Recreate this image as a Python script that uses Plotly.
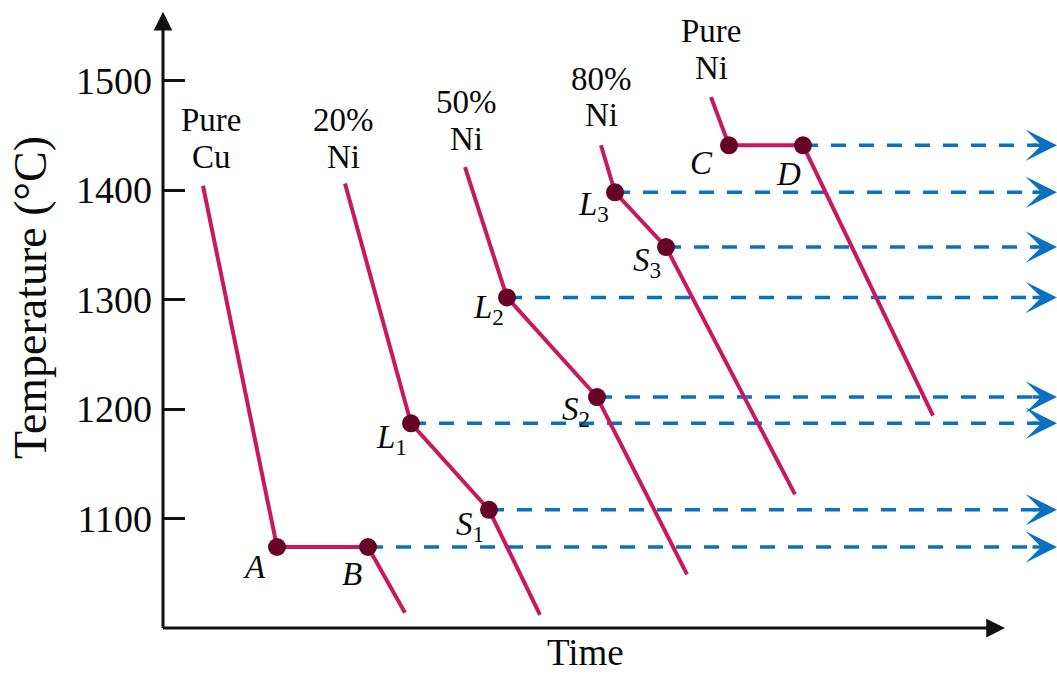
import plotly.graph_objects as go

# ---------------- data ----------------
curve_labels = [["Pure", "Cu"], ["20%", "Ni"], ["50%", "Ni"], ["80%", "Ni"], ["Pure", "Ni"]]

cu_time = [4.0, 11.4, 20.5, 24.2]
cu_temp = [1404, 1074, 1074, 1014]

ni20_time = [18.2, 24.8, 32.6, 37.7]
ni20_temp = [1406, 1187, 1108, 1012]

ni50_time = [30.2, 34.4, 43.4, 52.4]
ni50_temp = [1421, 1302, 1211, 1049]

ni80_time = [43.8, 45.2, 50.3, 63.2]
ni80_temp = [1441, 1398, 1348, 1122]

ni_time = [54.8, 56.6, 64.0, 77.0]
ni_temp = [1485, 1441, 1441, 1194]

point_labels = [
    ["<i>A</i>", "<i>B</i>"],
    ["<i>L</i><sub>1</sub>", "<i>S</i><sub>1</sub>"],
    ["<i>L</i><sub>2</sub>", "<i>S</i><sub>2</sub>"],
    ["<i>L</i><sub>3</sub>", "<i>S</i><sub>3</sub>"],
    ["<i>C</i>", "<i>D</i>"],
]

y_ticks = [1100, 1200, 1300, 1400, 1500]
y_title = "Temperature (°C)"
x_title = "Time"

arrow_tip_time = 89.4

# ---------------- styling ----------------
W, H = 1057, 674
ML, MR, MT, MB = 163, 0, 8, 46
X_RANGE = [0, 89.4]
Y_RANGE = [1000, 1566.4]
FONT = "Liberation Serif"
CURVE_COLOR = "#c8195f"
DOT_COLOR = "#650424"
BLUE = "#0a70c2"
TEXT = "#0a0a0a"

# label offsets in pixels (dx right, dy down) relative to their point
label_offsets = [
    [(-23, 20), (-16, 27)],
    [(-20, 16), (-19, 17)],
    [(-19, 12), (-21, 14)],
    [(-22, 14), (-19, 15)],
    [(-28, 18), (-15, 29)],
]
# curve title centres in pixels (x, y line1, y line2)
curve_label_pos = [(211, 120, 157), (343, 120, 157), (466, 102, 139), (601, 79, 115), (711, 31, 68)]

plot_w = W - ML - MR
plot_h = H - MT - MB


def px_to_paper(px, py):
    return (px - ML) / plot_w, (H - MB - py) / plot_h


curves_t = [cu_time, ni20_time, ni50_time, ni80_time, ni_time]
curves_T = [cu_temp, ni20_temp, ni50_temp, ni80_temp, ni_temp]

fig = go.Figure()
annotations = []

# dashed horizontal guide lines from the marked points
for t, T in zip(curves_t, curves_T):
    for i in (1, 2):
        if i == 1 and (t is cu_time or t is ni_time):
            continue
        fig.add_trace(go.Scatter(
            x=[t[i], arrow_tip_time - 2.0], y=[T[i], T[i]], mode="lines",
            line=dict(color=BLUE, width=3.5, dash="15px,13px"),
            hoverinfo="skip", showlegend=False))
        annotations.append(dict(
            x=arrow_tip_time, y=T[i], ax=arrow_tip_time - 2.6, ay=T[i],
            xref="x", yref="y", axref="x", ayref="y", text="", showarrow=True,
            arrowhead=3, arrowwidth=3.5, arrowsize=1.5, arrowcolor=BLUE, standoff=0))

# cooling curves
for t, T in zip(curves_t, curves_T):
    fig.add_trace(go.Scatter(
        x=t, y=T, mode="lines", line=dict(color=CURVE_COLOR, width=4),
        hoverinfo="skip", showlegend=False))

# marked points
for t, T in zip(curves_t, curves_T):
    fig.add_trace(go.Scatter(
        x=[t[1], t[2]], y=[T[1], T[2]], mode="markers",
        marker=dict(color=DOT_COLOR, size=18, line=dict(width=0)),
        hoverinfo="skip", showlegend=False))

# point labels
for t, T, labs, offs in zip(curves_t, curves_T, point_labels, label_offsets):
    for k, i in enumerate((1, 2)):
        dx, dy = offs[k]
        annotations.append(dict(
            x=t[i], y=T[i], xref="x", yref="y", text=labs[k], showarrow=False,
            xshift=dx, yshift=-dy, xanchor="center", yanchor="middle",
            font=dict(family=FONT, size=33, color=TEXT)))

# curve titles
for lines, (cx, y1, y2) in zip(curve_labels, curve_label_pos):
    for txt, yy in zip(lines, (y1, y2)):
        px, py = px_to_paper(cx, yy)
        annotations.append(dict(
            x=px, y=py, xref="paper", yref="paper", text=txt, showarrow=False,
            xanchor="center", yanchor="middle",
            font=dict(family=FONT, size=33, color=TEXT)))

# axes drawn as arrows
annotations.append(dict(
    x=84.2, y=1000, ax=-0.15, ay=1000, xref="x", yref="y", axref="x", ayref="y",
    text="", showarrow=True, arrowhead=2, arrowwidth=3, arrowsize=1.25,
    arrowcolor="#111111", standoff=0))
annotations.append(dict(
    x=0, y=1563, ax=0, ay=998.6, xref="x", yref="y", axref="x", ayref="y",
    text="", showarrow=True, arrowhead=2, arrowwidth=3, arrowsize=1.25,
    arrowcolor="#111111", standoff=0))

# axis titles
px, py = px_to_paper(585, 652)
annotations.append(dict(x=px, y=py, xref="paper", yref="paper", text=x_title,
                        showarrow=False, xanchor="center", yanchor="middle",
                        font=dict(family=FONT, size=37, color=TEXT)))
px, py = px_to_paper(30, 298)
annotations.append(dict(x=px, y=py, xref="paper", yref="paper", text=y_title,
                        showarrow=False, xanchor="center", yanchor="middle", textangle=-90,
                        font=dict(family=FONT, size=46, color=TEXT)))

fig.update_layout(
    width=W, height=H,
    margin=dict(l=ML, r=MR, t=MT, b=MB, pad=0),
    paper_bgcolor="white", plot_bgcolor="white",
    showlegend=False,
    annotations=annotations,
    xaxis=dict(range=X_RANGE, showgrid=False, zeroline=False, showline=False,
               showticklabels=False, ticks="", fixedrange=True),
    yaxis=dict(range=Y_RANGE, showgrid=False, zeroline=False, showline=False,
               tickmode="array", tickvals=y_ticks, ticktext=[str(v) for v in y_ticks],
               ticks="inside", ticklen=22, tickwidth=2.5, tickcolor="#111111",
               ticklabelstandoff=10,
               tickfont=dict(family=FONT, size=38, color=TEXT), fixedrange=True),
)

fig.write_html("out.html")
